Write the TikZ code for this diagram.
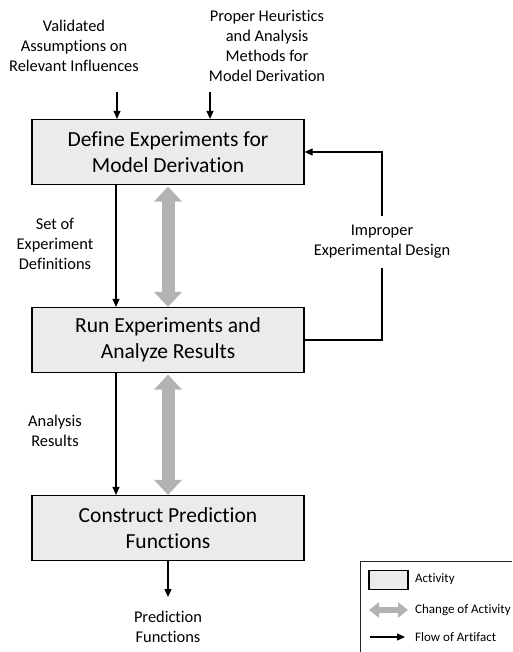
\documentclass[tikz,border=0pt]{standalone}
\usepackage{fontspec}
\setmainfont{Carlito}[Ligatures=NoCommon]
\usetikzlibrary{arrows.meta,calc}
\definecolor{boxfill}{HTML}{EBEBEB}
\definecolor{changegray}{HTML}{B3B3B3}
\begin{document}
\begin{tikzpicture}[x=1pt,y=-1pt,
  activity/.style={draw=black,line width=1.2pt,fill=boxfill,minimum width=272pt,
    minimum height=65pt,inner sep=0pt,align=center,
    font=\fontsize{21.5}{26}\selectfont},
  artlabel/.style={align=center,inner sep=0pt,font=\fontsize{16.4}{20}\selectfont},
  flow/.style={line width=1.1pt,-{Triangle[width=7pt,length=8pt]}},
  change/.style={line width=13pt,draw=changegray,
    {Triangle[width=27pt,length=15pt]}-{Triangle[width=27pt,length=15pt]}},
  legtext/.style={anchor=west,inner sep=0pt,font=\fontsize{13}{15}\selectfont}]
\useasboundingbox (0,0) rectangle (512,652);

% activities
\node[activity] (b1) at (168,152) {Define Experiments for\\Model Derivation};
\node[activity] (b2) at (168,340) {Run Experiments and\\Analyze Results};
\node[activity] (b3) at (168,528) {Construct Prediction\\Functions};

% input artifacts
\node[artlabel] (in1) at (74,46) {Validated\\Assumptions on\\Relevant Influences};
\node[artlabel] (in2) at (267,46) {Proper Heuristics\\and Analysis\\Methods for\\Model Derivation};
\coordinate (s1) at (117,92);
\coordinate (s2) at (210,92);
\draw[flow] (s1) -- (s1 |- b1.north);
\draw[flow] (s2) -- (s2 |- b1.north);

% artifacts passed between activities
\coordinate (lane) at (116,0);
\draw[flow] (lane |- b1.south) -- (lane |- b2.north);
\draw[flow] (lane |- b2.south) -- (lane |- b3.north);
\node[artlabel] (art1) at (55,244) {Set of\\Experiment\\Definitions};
\node[artlabel] (art2) at (55,431) {Analysis\\Results};

% changes of activity
\draw[change] ($(b1.south)+(0,1.5)$) -- (b2.north);
\draw[change] ($(b2.south)+(0,1.5)$) -- (b3.north);

% feedback loop
\node[artlabel,inner ysep=9pt] (fb) at (382,242) {Improper\\Experimental Design};
\draw[line width=1.1pt] (b2.east) -| (fb.south);
\draw[flow] (fb.north) |- (b1.east);

% output artifact
\coordinate (out) at (168,597);
\draw[flow] (b3.south) -- (out);
\node[artlabel] (res) at (168,627) {Prediction\\Functions};

% legend
\coordinate (lgtl) at (360,561);
\draw[line width=0.9pt,draw=black!85] (512,561) -- (lgtl) -- (360,652);
\node[draw=black,line width=1.2pt,fill=boxfill,minimum width=39pt,minimum height=19pt,
  inner sep=0pt] (lgbox) at (388.5,580) {};
\node[legtext] (lgt1) at (415,579) {Activity};
\coordinate (lgc1) at (369,610);
\coordinate (lgc2) at (408,610);
\draw[line width=6.5pt,draw=changegray,
  {Triangle[width=15pt,length=10pt]}-{Triangle[width=15pt,length=10pt]}] (lgc1) -- (lgc2);
\node[legtext] (lgt2) at (415,610) {Change of Activity};
\coordinate (lgf1) at (370,637);
\coordinate (lgf2) at (405,637);
\draw[flow] (lgf1) -- (lgf2);
\node[legtext] (lgt3) at (415,637) {Flow of Artifact};
\end{tikzpicture}
\end{document}
